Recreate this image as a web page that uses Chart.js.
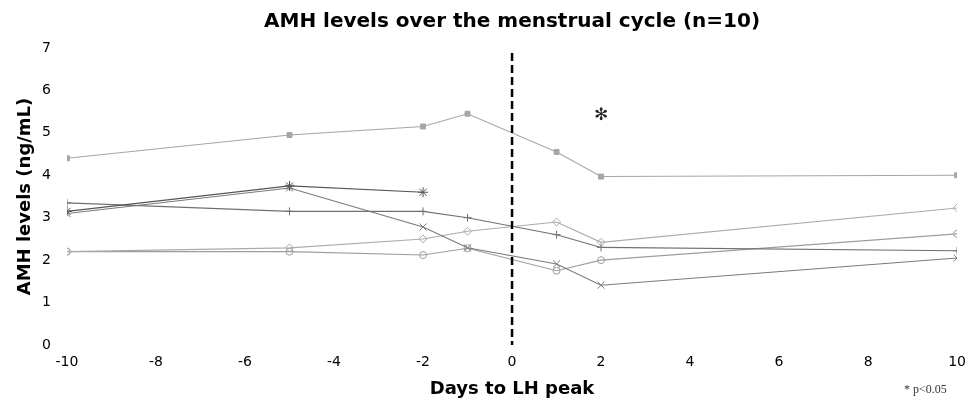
<!DOCTYPE html>
<html><head><meta charset="utf-8">
<script src="https://cdn.jsdelivr.net/npm/chart.js@4/dist/chart.umd.min.js"></script>
<style>html,body{margin:0;padding:0;background:#fff}#wrap{width:975px;height:403px;position:relative}</style>
</head><body><div id="wrap"><canvas id="c" width="975" height="403"></canvas></div>
<script>
// ---- data ----
const days = [-10, -5, -2, -1, 1, 2, 10];
const subjectA = [4.4, 4.95, 5.15, 5.45, 4.55, 3.97, 4.0];
const subjectB = [3.15, 3.75, 3.6, null, null, null, null];
const subjectC = [3.35, 3.15, 3.15, 3.0, 2.6, 2.3, 2.22];
const subjectD = [3.1, 3.7, 2.78, 2.29, 1.91, 1.41, 2.05];
const subjectE = [2.2, 2.29, 2.5, 2.68, 2.9, 2.42, 3.23];
const subjectF = [2.2, 2.2, 2.12, 2.28, 1.75, 2.0, 2.62];
const lhPeakDay = 0;
const lhLineTop = 6.88;
const sigDay = 2;
const sigLevel = 5.4;
const sigMark = '\u273B';
const footnote = '* p<0.05';
const titleText = 'AMH levels over the menstrual cycle (n=10)';
const xTitle = 'Days to LH peak';
const yTitle = 'AMH levels (ng/mL)';

function pts(vals){ return days.map((d,i)=>({x:d, y:vals[i]})); }

function ds(vals, color, style, radius, fill){
  return {
    data: pts(vals), borderColor: color, backgroundColor: fill ? color : 'rgba(0,0,0,0)',
    pointBorderColor: color, pointBackgroundColor: fill ? color : 'rgba(0,0,0,0)',
    borderWidth: 1.1, pointStyle: style, pointRadius: radius, pointBorderWidth: 1,
    tension: 0, spanGaps: false
  };
}

const overlay = {
  id: 'overlay',
  afterDatasetsDraw(chart){
    const {ctx, scales:{x, y}, chartArea} = chart;
    ctx.save();
    // title centred over the plot area
    ctx.fillStyle = '#000';
    ctx.font = 'bold 20px "DejaVu Sans"';
    ctx.textAlign = 'center';
    ctx.textBaseline = 'middle';
    ctx.fillText(titleText, (chartArea.left + chartArea.right) / 2, 22);
    // dashed LH peak line
    const px = x.getPixelForValue(lhPeakDay);
    ctx.strokeStyle = '#000';
    ctx.lineWidth = 2.5;
    ctx.setLineDash([8, 4]);
    ctx.beginPath();
    ctx.moveTo(px, y.getPixelForValue(lhLineTop));
    ctx.lineTo(px, chartArea.bottom);
    ctx.stroke();
    ctx.setLineDash([]);
    // significance mark
    ctx.fillStyle = '#222';
    ctx.font = '17px "DejaVu Sans"';
    ctx.fillText(sigMark, x.getPixelForValue(sigDay), y.getPixelForValue(sigLevel));
    // footnote
    ctx.font = '12px "Liberation Serif"';
    ctx.fillStyle = '#333';
    ctx.textAlign = 'left';
    ctx.fillText(footnote, 904, 390);
    ctx.restore();
  }
};

new Chart(document.getElementById('c'), {
  type: 'line',
  data: { datasets: [
    ds(subjectA, '#a6a6a6', 'rect', 3.5, true),
    ds(subjectB, '#555555', 'star', 5, false),
    ds(subjectC, '#707070', 'cross', 4, false),
    ds(subjectD, '#7a7a7a', 'crossRot', 5, false),
    ds(subjectE, '#ababab', 'rectRot', 4, false),
    ds(subjectF, '#9d9d9d', 'circle', 3.5, false)
  ]},
  options: {
    responsive: false, animation: false, devicePixelRatio: 1,
    layout: { padding: { left: 0, right: 13, top: 48, bottom: 0 } },
    plugins: {
      legend: { display: false }, tooltip: { enabled: false }, title: { display: false }
    },
    scales: {
      x: { type: 'linear', min: -10, max: 10,
        grid: { display: false, drawTicks: false }, border: { display: false },
        ticks: { stepSize: 2, padding: 9, color: '#000', font: { family: 'DejaVu Sans', size: 14 } },
        title: { display: true, text: xTitle, color: '#000',
          font: { family: 'DejaVu Sans', size: 18, weight: 'bold' }, padding: { top: 6, bottom: 3 } },
        afterFit(s){ s.height = 58; }
      },
      y: { min: 0, max: 7,
        grid: { display: false, drawTicks: false }, border: { display: false },
        ticks: { stepSize: 1, padding: 16, color: '#000', font: { family: 'DejaVu Sans', size: 14 } },
        title: { display: true, text: yTitle, color: '#000',
          font: { family: 'DejaVu Sans', size: 18, weight: 'bold' }, padding: { top: 15, bottom: 4 } },
        afterFit(s){ s.width = 67; }
      }
    }
  },
  plugins: [overlay]
});
</script></body></html>
